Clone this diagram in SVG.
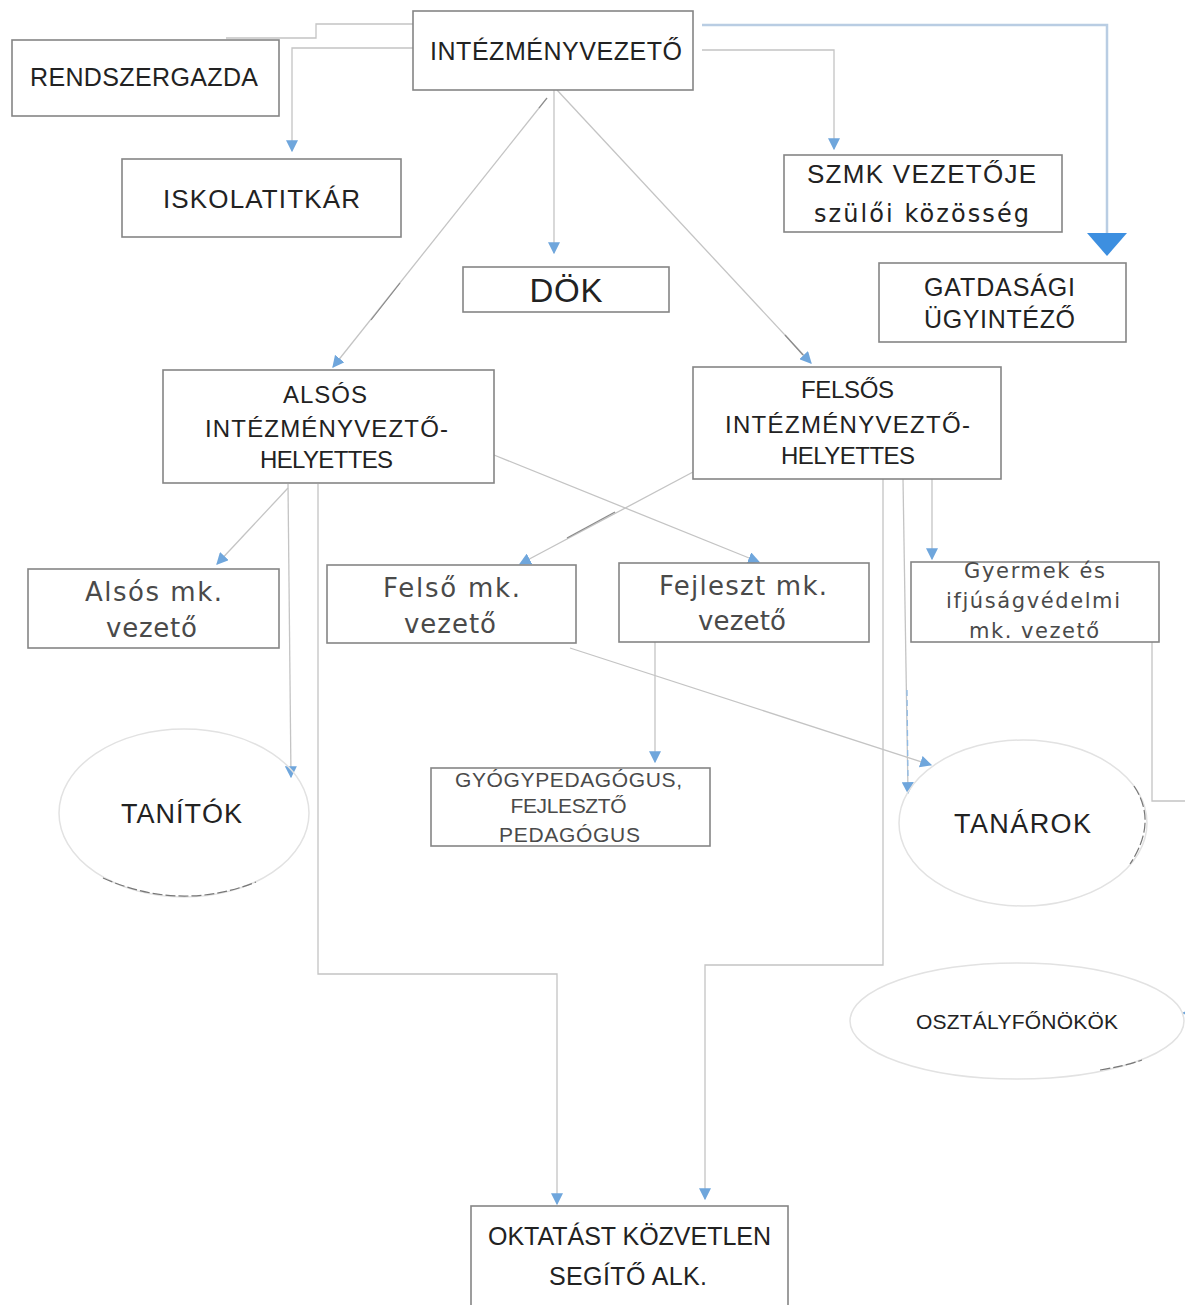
<svg xmlns="http://www.w3.org/2000/svg" width="1185" height="1305" viewBox="0 0 1185 1305">
<style>
.box{fill:#fff;stroke:#858585;stroke-width:1.6}
.t{font-family:"Liberation Sans",Arial,sans-serif;text-anchor:middle;fill:#222}
.v{font-family:"DejaVu Sans","Liberation Sans",sans-serif}
.g{fill:#4a4a4a}
.ln{fill:none;stroke:#c4c4c4;stroke-width:1.3}
.dk{fill:none;stroke:#8a8a8a;stroke-width:1.2}
.el{fill:none;stroke:#e2e2e2;stroke-width:1.5}
.arc{fill:none;stroke:#777;stroke-width:1.2;stroke-dasharray:10 3}
</style>
<defs>
<marker id="a" markerUnits="userSpaceOnUse" markerWidth="12" markerHeight="12" viewBox="0 0 10 10" refX="9" refY="5" orient="auto">
<path d="M0,0 L10,5 L0,10 z" fill="#6fa6dc"/>
</marker>
</defs>
<rect width="1185" height="1305" fill="#fff"/>
<g id="connectors">
<path class="ln" d="M413,24 H316 V38 H226"/>
<path class="ln" d="M413,48 H292 V151" marker-end="url(#a)"/>
<path class="ln" d="M554,90 V253" marker-end="url(#a)"/>
<path class="ln" d="M547,98 L333,367" marker-end="url(#a)"/>
<path class="dk" d="M547,98 L539,108 M400,283 L371,320"/>
<path class="ln" d="M557,90 L811,363" marker-end="url(#a)"/>
<path class="dk" d="M785,335 L803,355"/>
<path d="M702,25 H1107 V236" fill="none" stroke="#b9cde3" stroke-width="2.5"/>
<polygon points="1087,233 1127,233 1107,256" fill="#3d8fe0"/>
<path class="ln" d="M702,50 H834 V149" marker-end="url(#a)"/>
<path class="ln" d="M288,488 L217,564" marker-end="url(#a)"/>
<path class="ln" d="M288,484 L291,777" marker-end="url(#a)"/>
<path class="ln" d="M318,484 V974 H557 V1204" marker-end="url(#a)"/>
<path class="ln" d="M494,455 L759,562" marker-end="url(#a)"/>
<path class="ln" d="M693,472 L520,564" marker-end="url(#a)"/>
<path class="dk" d="M615,512 L567,538"/>
<path class="ln" d="M932,479 V559" marker-end="url(#a)"/>
<path class="ln" d="M903,479 L908,793" marker-end="url(#a)"/>
<path d="M907,690 L908,780" fill="none" stroke="#8fbbe6" stroke-width="1.3" stroke-dasharray="6 4"/>
<path class="ln" d="M883,479 V965 H705 V1199" marker-end="url(#a)"/>
<path class="ln" d="M655,642 V762" marker-end="url(#a)"/>
<path class="ln" d="M570,648 L931,765" marker-end="url(#a)"/>
<path class="ln" d="M1152,642 V801 H1188 V1013 H1183" marker-end="url(#a)"/>
</g>
<g id="intezmenyvezeto">
<rect class="box" x="413" y="11" width="280" height="79"/>
<text class="t" x="556" y="60" font-size="25" textLength="252">INTÉZMÉNYVEZETŐ</text>
</g>
<g id="rendszergazda">
<rect class="box" x="12" y="40" width="267" height="76"/>
<text class="t" x="144" y="86" font-size="25" textLength="228">RENDSZERGAZDA</text>
</g>
<g id="iskolatitkar">
<rect class="box" x="122" y="159" width="279" height="78"/>
<text class="t" x="261.5" y="208" font-size="26" textLength="197">ISKOLATITKÁR</text>
</g>
<g id="dok">
<rect class="box" x="463" y="267" width="206" height="45"/>
<text class="t" x="566" y="302" font-size="33" textLength="73">DÖK</text>
</g>
<g id="szmk">
<rect class="box" x="784" y="155" width="278" height="77"/>
<text class="t" x="921.5" y="183" font-size="26" textLength="229">SZMK VEZETŐJE</text>
<text class="t v" x="921.5" y="222" font-size="24" textLength="215">szülői közösség</text>
</g>
<g id="gazdasagi">
<rect class="box" x="879" y="263" width="247" height="79"/>
<text class="t" x="999.5" y="296" font-size="25" textLength="151">GATDASÁGI</text>
<text class="t" x="999.5" y="328" font-size="25" textLength="151">ÜGYINTÉZŐ</text>
</g>
<g id="alsos-helyettes">
<rect class="box" x="163" y="370" width="331" height="113"/>
<text class="t" x="325" y="403" font-size="24" textLength="84">ALSÓS</text>
<text class="t" x="326.5" y="437" font-size="24" textLength="243">INTÉZMÉNYVEZTŐ-</text>
<text class="t" x="326.5" y="468" font-size="24" textLength="133">HELYETTES</text>
</g>
<g id="felsos-helyettes">
<rect class="box" x="693" y="367" width="308" height="112"/>
<text class="t" x="847.5" y="398" font-size="24" textLength="93">FELSŐS</text>
<text class="t" x="847.5" y="433" font-size="24" textLength="245">INTÉZMÉNYVEZTŐ-</text>
<text class="t" x="848" y="464" font-size="24" textLength="134">HELYETTES</text>
</g>
<g id="alsos-mk">
<rect class="box" x="28" y="569" width="251" height="79"/>
<text class="t v g" x="153.5" y="601" font-size="26" textLength="137">Alsós mk.</text>
<text class="t v g" x="151.5" y="637" font-size="26" textLength="91">vezető</text>
</g>
<g id="felso-mk">
<rect class="box" x="327" y="565" width="249" height="78"/>
<text class="t v g" x="451.5" y="597" font-size="26" textLength="137">Felső mk.</text>
<text class="t v g" x="450" y="633" font-size="26" textLength="92">vezető</text>
</g>
<g id="fejleszt-mk">
<rect class="box" x="619" y="563" width="250" height="79"/>
<text class="t v g" x="743" y="595" font-size="26" textLength="168">Fejleszt mk.</text>
<text class="t v g" x="742" y="630" font-size="26" textLength="88">vezető</text>
</g>
<g id="gyermek-mk">
<rect class="box" x="911" y="562" width="248" height="80"/>
<text class="t v g" x="1034.5" y="578" font-size="21" textLength="141">Gyermek és</text>
<text class="t v g" x="1033" y="608" font-size="21" textLength="174">ifjúságvédelmi</text>
<text class="t v g" x="1034" y="638" font-size="21" textLength="130">mk. vezető</text>
</g>
<g id="gyogypedagogus">
<rect class="box" x="431" y="768" width="279" height="78"/>
<text class="t g" x="568.5" y="787" font-size="21" textLength="227">GYÓGYPEDAGÓGUS,</text>
<text class="t g" x="568.5" y="813" font-size="21" textLength="116">FEJLESZTŐ</text>
<text class="t g" x="569.5" y="842" font-size="21" textLength="141">PEDAGÓGUS</text>
</g>
<g id="tanitok">
<ellipse class="el" cx="184" cy="813" rx="125" ry="84"/>
<path class="arc" d="M103,878 Q180,912 256,882"/>
<text class="t" x="181.5" y="823" font-size="27" textLength="121" fill="#333">TANÍTÓK</text>
</g>
<g id="tanarok">
<ellipse class="el" cx="1023" cy="823" rx="124" ry="83"/>
<path class="arc" d="M1134,786 Q1158,822 1130,864"/>
<text class="t" x="1022.5" y="833" font-size="27" textLength="137">TANÁROK</text>
</g>
<g id="osztalyfonokok">
<ellipse class="el" cx="1017" cy="1021" rx="167" ry="58"/>
<path class="arc" d="M1100,1070 Q1125,1066 1142,1060"/>
<text class="t" x="1017" y="1029" font-size="21" textLength="202" fill="#333">OSZTÁLYFŐNÖKÖK</text>
</g>
<g id="oktatast">
<rect class="box" x="471" y="1206" width="317" height="104"/>
<text class="t" x="629.5" y="1245" font-size="25" textLength="283">OKTATÁST KÖZVETLEN</text>
<text class="t" x="628" y="1285" font-size="25" textLength="158">SEGÍTŐ ALK.</text>
</g>
</svg>
